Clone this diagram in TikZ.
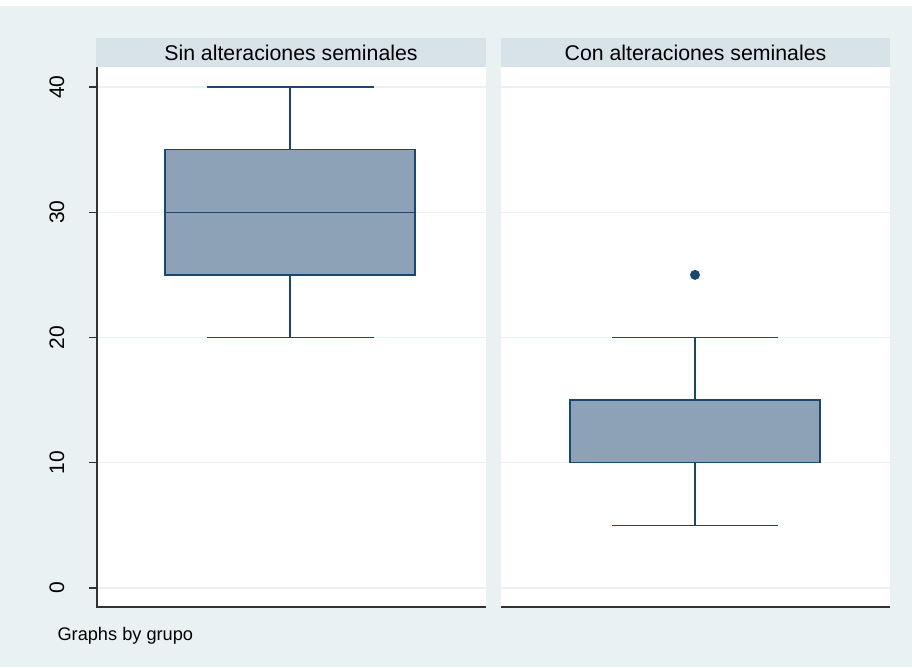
\documentclass[tikz,border=0pt]{standalone}
\usepackage{fontspec}
\setmainfont{Liberation Sans}
\usetikzlibrary{backgrounds}

\definecolor{fondo}{RGB}{234,241,243}
\definecolor{cabecera}{RGB}{215,227,233}
\definecolor{relleno}{RGB}{142,162,183}
\definecolor{marino}{RGB}{26,71,111}
\definecolor{rejilla}{RGB}{234,242,244}
\definecolor{gris}{RGB}{50,50,50}

\begin{document}
\begin{tikzpicture}[x=1pt,y=-1pt,% todo en pixeles
	titulo/.style={font=\fontsize{21.3}{21.3}\selectfont, text=black},
	etiqueta/.style={font=\fontsize{21}{21}\selectfont, rotate=90, text=black},
	caja/.style={draw=marino, fill=relleno, line width=1.4pt},
	bigote/.style={draw=marino, line width=1.4pt},
	linea/.style={draw=rejilla, line width=1.2pt},
	eje/.style={draw=gris, line width=1.1pt}]

% Fondo y paneles
\useasboundingbox (0,0) rectangle (912,667);
\fill [fondo] (0,6) rectangle (912,667);
\fill [cabecera] (96,38) rectangle (486,67);
\fill [cabecera] (501,38) rectangle (890,67);
\fill [white] (96,67) rectangle (486,607);
\fill [white] (501,67) rectangle (890,607);

\node [titulo] (Sin) at (291,52.5) {Sin alteraciones seminales};
\node [titulo] (Con) at (695.5,52.5) {Con alteraciones seminales};
%%%%%%%%%%%%%%%%%%%%%%%%%%%%%%%%%%%%%%%%%%%%%%%%%%%%%%%%%%%%%%%%%%%%%%%%%%%%
% Rejilla, marcas y ejes (en unidades de los datos)
%%%%%%%%%%%%%%%%%%%%%%%%%%%%%%%%%%%%%%%%%%%%%%%%%%%%%%%%%%%%%%%%%%%%%%%%%%%%
\begin{scope}[shift={(0,588)}, y=12.525pt]
\foreach \v in {0,10,...,40} {
	\draw [linea] (98,\v) -- (486,\v);
	\draw [linea] (501,\v) -- (890,\v);
	\draw [eje] (89,\v) -- (97,\v);
	\node [etiqueta] (Y\v) at (57,\v) {\v};
}
\end{scope}
\draw [eje] (97,67) -- (97,607) -- (486,607);
\draw [eje] (501,607) -- (890,607);
%%%%%%%%%%%%%%%%%%%%%%%%%%%%%%%%%%%%%%%%%%%%%%%%%%%%%%%%%%%%%%%%%%%%%%%%%%%%
\begin{scope}[shift={(0,588)}, y=12.525pt]
% Sin alteraciones
\draw [bigote] (290,35) -- (290,40)	(207,40) -- (374,40);
\draw [bigote] (290,25) -- (290,20)	(207,20) -- (374,20);
\draw [caja] (165,25) rectangle (415,35);
\draw [bigote] (165,30) -- (415,30);
% Con alteraciones
\draw [bigote] (695,15) -- (695,20)	(612,20) -- (778,20);
\draw [bigote] (695,10) -- (695,5)	(612,5) -- (778,5);
\draw [caja] (570,10) rectangle (820,15);
\draw [bigote] (570,10) -- (820,10);
\fill [marino] (695,25) circle (5pt);
\end{scope}

\node [anchor=west, font=\fontsize{18.2}{18.2}\selectfont] (Nota) at (54,636) {Graphs by grupo};

\end{tikzpicture}
\end{document}
